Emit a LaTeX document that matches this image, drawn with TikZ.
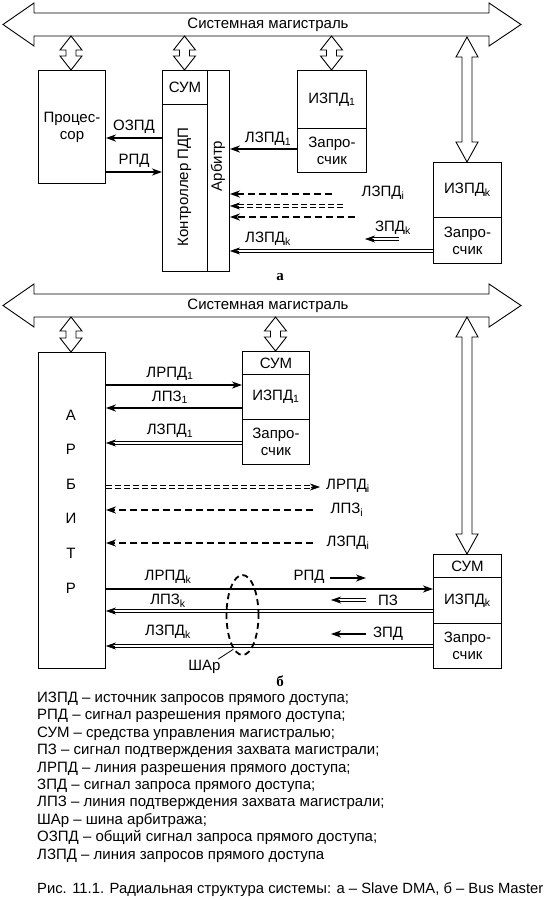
\documentclass[tikz,border=0pt]{standalone}
\usepackage{fontspec}
\setmainfont{Liberation Sans}
\newfontfamily\serifbf{Liberation Serif}
\usetikzlibrary{arrows.meta,shapes.geometric,calc}

\newcommand{\sub}[1]{\textsubscript{#1}}
% system bus: name of text node, y of its axis
\newcommand{\sysbus}[2]{%
    \draw[hollow] (3,#2) -- (34,#2-21.5) -- (34,#2-11.5) -- (489,#2-11.5) -- (489,#2-21.5)
        -- (521,#2) -- (489,#2+21.5) -- (489,#2+11.5) -- (34,#2+11.5) -- (34,#2+21.5) -- cycle;
    \node (#1) at (268,#2) {Системная магистраль};}
% vertical two-way link: x, top, bottom, head length
\newcommand{\vlink}[4]{%
    \draw[hollow] (#1,#2) -- (#1+11,#2+#4) -- (#1+5,#2+#4) -- (#1+5,#3-#4) -- (#1+11,#3-#4)
        -- (#1,#3) -- (#1-11,#3-#4) -- (#1-5,#3-#4) -- (#1-5,#2+#4) -- (#1-11,#2+#4) -- cycle;}
% double line with a solid tip
\newcommand{\dblarrow}[3][dbl]{%
    \draw[#1] (#2) -- (#3);
    \draw[tipseg] ($(#3)!9pt!(#2)$) -- (#3);}

\begin{document}
\begin{tikzpicture}[x=1pt, y=-1pt,
                    font=\fontsize{15}{17}\selectfont,
                    >={Stealth[length=10pt,width=7pt,inset=3pt]},
                    ]
    \tikzstyle{blk}=[draw, line width=0.9pt, anchor=north west, inner sep=0pt, align=center]
    \tikzstyle{hollow}=[draw, line width=0.9pt, fill=white]
    \tikzstyle{sig}=[line width=2pt, ->]
    \tikzstyle{dbl}=[double, line width=1.1pt, double distance=1.8pt, shorten >=7pt]
    \tikzstyle{tipseg}=[line width=0.6pt, ->]
    \tikzstyle{dsh}=[line width=2pt, dash pattern=on 7pt off 4pt, ->]
    \tikzstyle{ddsh}=[double, line width=1pt, double distance=1.4pt, dash pattern=on 6pt off 3pt, shorten >=7pt]
    \tikzstyle{partlbl}=[font=\serifbf\bfseries\fontsize{15}{17}\selectfont]

    \useasboundingbox (0,0) rectangle (556,900);

    % ---------- a: Slave DMA ----------
    \sysbus{busa}{24.5}
    \vlink{71}{36}{70}{14}
    \vlink{184.5}{36}{70}{14}
    \vlink{331.5}{36}{70}{14}
    \vlink{467}{37}{162}{20}

    \node[blk, minimum width=67, minimum height=113] (proc) at (38,70) {Процес-\\сор};
    \node[blk, minimum width=67, minimum height=201] (ctrl) at (162,70) {};
    \node[blk, minimum width=45, minimum height=34] (suma) at (162,70) {СУМ};
    \node[blk, minimum width=22, minimum height=201] (arba) at (207,70) {};
    \node[rotate=90] (ctrltxt) at (184.5,187) {Контроллер ПДП};
    \node[rotate=90] (arbtxt) at (218,166) {Арбитр};

    \node[blk, minimum width=69, minimum height=58] (izpd1) at (297,70) {ИЗПД\sub{1}};
    \node[blk, minimum width=69, minimum height=44] (req1) at (297,128) {Запро-\\счик};
    \node[blk, minimum width=68, minimum height=55] (izpdk) at (433,162) {ИЗПД\sub{k}};
    \node[blk, minimum width=68, minimum height=46] (reqk) at (433,217) {Запро-\\счик};

    \draw[sig] (ctrl.west |- 0,138) -- (proc.east |- 0,138);
    \draw[sig] (proc.east |- 0,172) -- (ctrl.west |- 0,172);
    \draw[sig] (req1.west |- 0,149) -- (arba.east |- 0,149);
    \dblarrow{reqk.west |- 0,251}{arba.east |- 0,251}

    \coordinate (dia) at (332,194);
    \coordinate (dib) at (343,206);
    \coordinate (dic) at (355,217);
    \draw[dsh] (dia) -- (arba.east |- dia);
    \dblarrow[ddsh]{dib}{arba.east |- dib}
    \draw[dsh] (dic) -- (arba.east |- dic);
    \coordinate (zpka) at (399,239);
    \coordinate (zpkb) at (365,239);
    \dblarrow{zpka}{zpkb}

    \node (lozpd) at (134,127) {ОЗПД};
    \node (lrpd) at (134,161) {РПД};
    \node (llzpd1) at (268,139) {ЛЗПД\sub{1}};
    \node (llzpdi) at (383,193) {ЛЗПД\sub{i}};
    \node (lzpdk) at (393,228) {ЗПД\sub{k}};
    \node (llzpdk) at (268,239) {ЛЗПД\sub{k}};
    \node[partlbl] (marka) at (280,277) {а};

    % ---------- b: Bus Master ----------
    \sysbus{busb}{305.5}
    \vlink{71}{317}{352}{14}
    \vlink{275.5}{317}{351}{14}
    \vlink{467}{317}{554}{20}

    \node[blk, minimum width=67, minimum height=316] (arbb) at (38,352) {};
    \foreach \ch [count=\i] in {А,Р,Б,И,Т,Р}
        \node (arbl\i) at (71,{415+34.6*(\i-1)}) {\ch};

    \node[blk, minimum width=67, minimum height=23] (sum1) at (242,351) {СУМ};
    \node[blk, minimum width=67, minimum height=45] (izpd1b) at (242,374) {ИЗПД\sub{1}};
    \node[blk, minimum width=67, minimum height=45] (req1b) at (242,419) {Запро-\\счик};
    \node[blk, minimum width=68, minimum height=23] (sumk) at (433,554) {СУМ};
    \node[blk, minimum width=68, minimum height=46] (izpdkb) at (433,577) {ИЗПД\sub{k}};
    \node[blk, minimum width=68, minimum height=45] (reqkb) at (433,623) {Запро-\\счик};

    \draw[sig] (arbb.east |- 0,385) -- (izpd1b.west |- 0,385);
    \draw[sig] (izpd1b.west |- 0,408) -- (arbb.east |- 0,408);
    \dblarrow{req1b.west |- 0,443}{arbb.east |- 0,443}

    \coordinate (bia) at (320,487);
    \coordinate (bib) at (313,510);
    \coordinate (bic) at (313,543);
    \dblarrow[ddsh]{arbb.east |- bia}{bia}
    \draw[dsh] (bib) -- (arbb.east |- bib);
    \draw[dsh] (bic) -- (arbb.east |- bic);

    \draw[sig] (arbb.east |- 0,589) -- (izpdkb.west |- 0,589);
    \dblarrow{izpdkb.west |- 0,611}{arbb.east |- 0,611}
    \dblarrow{reqkb.west |- 0,646}{arbb.east |- 0,646}

    \coordinate (rpda) at (330,578);
    \coordinate (rpdb) at (366,578);
    \draw[line width=2.6pt, ->] (rpda) -- (rpdb);
    \coordinate (pza) at (366,600);
    \coordinate (pzb) at (331,600);
    \dblarrow{pza}{pzb}
    \coordinate (zpa) at (366,634);
    \coordinate (zpb) at (331,634);
    \draw[sig] (zpa) -- (zpb);

    \node[draw, ellipse, line width=1.8pt, dash pattern=on 6pt off 4pt,
          minimum width=32, minimum height=80, inner sep=0pt] (shar) at (242.5,615) {};
    \node[inner sep=1pt] (sharlbl) at (204.5,667) {ШАр};
    \draw[line width=0.8pt] (sharlbl.30) -- (shar.255);

    \node (llrpd1) at (170,374) {ЛРПД\sub{1}};
    \node (llpz1) at (170,397) {ЛПЗ\sub{1}};
    \node (llzpd1b) at (170,431) {ЛЗПД\sub{1}};
    \node (llrpdi) at (348,486) {ЛРПД\sub{i}};
    \node (llpzi) at (347,510) {ЛПЗ\sub{i}};
    \node (llzpdi) at (348,543) {ЛЗПД\sub{i}};
    \node (llrpdk) at (168,577) {ЛРПД\sub{k}};
    \node (llpzk) at (168,601) {ЛПЗ\sub{k}};
    \node (llzpdkb) at (168,632) {ЛЗПД\sub{k}};
    \node (lrpdb) at (309,577) {РПД};
    \node (lpz) at (388,600) {ПЗ};
    \node (lzpd) at (388,634) {ЗПД};
    \node[partlbl] (markb) at (280,681) {б};

    % ---------- legend ----------
    \foreach \txt [count=\i] in {ИЗПД – источник запросов прямого доступа;,
            РПД – сигнал разрешения прямого доступа;,
            СУМ – средства управления магистралью;,
            ПЗ – сигнал подтверждения захвата магистрали;,
            ЛРПД – линия разрешения прямого доступа;,
            ЗПД – сигнал запроса прямого доступа;,
            ЛПЗ – линия подтверждения захвата магистрали;,
            ШАр – шина арбитража;,
            ОЗПД – общий сигнал запроса прямого доступа;,
            ЛЗПД – линия запросов прямого доступа}
        \node[anchor=base west, inner sep=0pt] (leg\i) at (37,{702.5+17.4*(\i-1)}) {\txt};
    \node[anchor=base west, inner sep=0pt, font=\fontsize{14.8}{17}\selectfont] (caption) at (37,893)
        {Рис. 11.1. Радиальная структура системы: а – Slave DMA, б – Bus Master};
\end{tikzpicture}
\end{document}
